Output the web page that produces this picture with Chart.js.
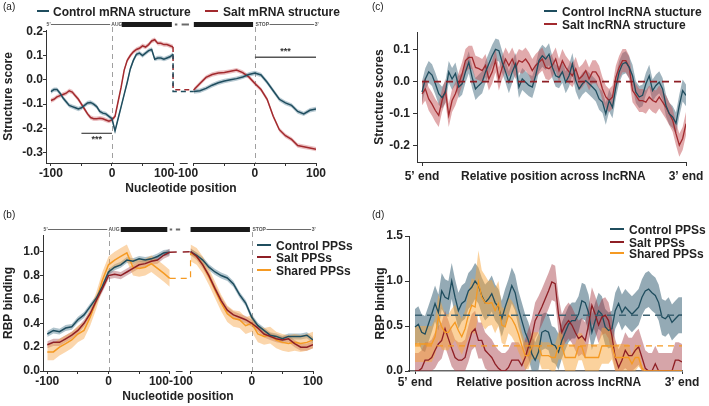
<!DOCTYPE html>
<html><head><meta charset="utf-8">
<script src="https://cdn.jsdelivr.net/npm/chart.js@4.4.1/dist/chart.umd.min.js"></script>
<style>
html,body{margin:0;padding:0;background:#fff;}
body{width:709px;height:406px;position:relative;overflow:hidden;font-family:"Liberation Sans",Arial,Helvetica,sans-serif;}
canvas{position:absolute;}
.pl{position:absolute;font-size:10px;color:#222;line-height:10px;}
.lg{position:absolute;font-weight:bold;font-size:12px;color:#222;white-space:nowrap;line-height:13px;}
.lg span{display:inline-block;height:2px;vertical-align:middle;position:relative;top:-1px;}
</style></head>
<body>
<canvas id="ca" style="left:0;top:0" width="355" height="200"></canvas>
<canvas id="cb" style="left:0;top:200px" width="355" height="206"></canvas>
<canvas id="cc" style="left:355px;top:0" width="354" height="200"></canvas>
<canvas id="cd" style="left:355px;top:200px" width="354" height="206"></canvas>

<div class="pl" style="left:3px;top:2px">(a)</div>
<div class="pl" style="left:3px;top:210px">(b)</div>
<div class="pl" style="left:372px;top:2px">(c)</div>
<div class="pl" style="left:372px;top:210px">(d)</div>

<div class="lg" style="left:37px;top:5.5px"><span style="width:12px;margin-right:4px;background:#1f4d5e"></span>Control mRNA structure</div>
<div class="lg" style="left:205px;top:5.5px"><span style="width:13px;margin-right:5px;background:#a22a2e"></span>Salt mRNA structure</div>

<div class="lg" style="left:544px;top:5.5px"><span style="width:13px;margin-right:5px;background:#1f4d5e"></span>Control lncRNA stucture</div>
<div class="lg" style="left:544px;top:18.5px"><span style="width:13px;margin-right:5px;background:#a22a2e"></span>Salt lncRNA structure</div>

<div class="lg" style="left:257px;top:239.5px"><span style="width:14px;margin-right:5px;background:#1f4d5e"></span>Control PPSs</div>
<div class="lg" style="left:257px;top:251.5px"><span style="width:14px;margin-right:5px;background:#8e1f25"></span>Salt PPSs</div>
<div class="lg" style="left:257px;top:264.5px"><span style="width:14px;margin-right:5px;background:#f59a23"></span>Shared PPSs</div>

<div class="lg" style="left:610px;top:223.5px"><span style="width:14px;margin-right:5px;background:#1f4d5e"></span>Control PPSs</div>
<div class="lg" style="left:610px;top:236.5px"><span style="width:14px;margin-right:5px;background:#8e1f25"></span>Salt PPSs</div>
<div class="lg" style="left:610px;top:247.5px"><span style="width:14px;margin-right:5px;background:#f59a23"></span>Shared PPSs</div>

<script>
// ---------------- DATA ----------------
// nucleotide positions
const ntStep5  = Array.from({length:41}, (_, i) => -100 + 5 * i);
const ntStep10 = Array.from({length:21}, (_, i) => -100 + 10 * i);

// (a) structure score around AUG (step 5) and STOP (step 10)
const ctrlA_aug = [-0.048,-0.04,-0.04,-0.055,-0.075,-0.09,-0.105,-0.11,-0.115,-0.12,-0.115,-0.105,-0.095,-0.093,-0.1,-0.11,-0.13,-0.137,-0.14,-0.15,-0.16,-0.21,-0.16,-0.11,-0.06,-0.01,0.045,0.08,0.105,0.11,0.1,0.11,0.12,0.125,0.085,0.09,0.09,0.085,0.09,0.095,0.105];
const saltA_aug = [-0.085,-0.08,-0.07,-0.065,-0.06,-0.055,-0.045,-0.05,-0.065,-0.08,-0.1,-0.12,-0.14,-0.155,-0.16,-0.16,-0.158,-0.16,-0.165,-0.17,-0.165,-0.15,-0.09,-0.03,0.04,0.08,0.1,0.115,0.125,0.13,0.14,0.135,0.145,0.16,0.165,0.15,0.15,0.145,0.145,0.14,0.135];
const ctrlA_stop = [-0.048,-0.045,-0.035,-0.022,-0.012,-0.005,0,0.005,0.012,0.022,0.028,0.02,-0.01,-0.045,-0.08,-0.095,-0.105,-0.13,-0.14,-0.125,-0.12];
const saltA_stop = [-0.041,-0.015,0.01,0.022,0.028,0.03,0.035,0.04,0.03,0.012,-0.015,-0.04,-0.08,-0.15,-0.205,-0.23,-0.245,-0.27,-0.275,-0.28,-0.285];
const errA = {ctrl:0.009, salt:0.009};
const yTicksA = [-0.3,-0.2,-0.1,0,0.1,0.2];
const sigA = [{from:-50, to:0, y:-0.22, starY:-0.245, side:'aug'}, {from:0, to:100, y:0.093, starY:0.116, side:'stop'}];

// (b) RBP binding around AUG and STOP (step 10)
const ctrlB_aug   = [0.31,0.34,0.33,0.36,0.37,0.43,0.47,0.54,0.61,0.71,0.83,0.87,0.89,0.93,0.92,0.94,0.93,0.94,0.96,0.99,0.995];
const saltB_aug   = [0.22,0.24,0.24,0.27,0.3,0.34,0.4,0.48,0.59,0.69,0.8,0.81,0.8,0.83,0.86,0.89,0.9,0.92,0.93,0.97,0.995];
const sharedB_aug = [0.16,0.16,0.2,0.23,0.26,0.31,0.34,0.45,0.59,0.76,0.89,0.93,0.96,0.99,0.87,0.86,0.87,0.9,0.86,0.82,0.776];
const ctrlB_stop   = [1.0,0.97,0.93,0.87,0.83,0.8,0.78,0.73,0.64,0.57,0.45,0.38,0.34,0.3,0.29,0.27,0.29,0.29,0.29,0.3,0.26];
const saltB_stop   = [1.0,0.96,0.89,0.8,0.69,0.59,0.51,0.47,0.45,0.43,0.4,0.36,0.31,0.29,0.27,0.26,0.27,0.23,0.2,0.2,0.22];
const sharedB_stop = [0.99,0.96,0.89,0.79,0.68,0.57,0.48,0.44,0.43,0.38,0.4,0.31,0.29,0.3,0.26,0.24,0.23,0.24,0.23,0.24,0.26];
const errB = {ctrl:0.025, salt:0.03, shared:0.07};
const yTicksB = [0,0.2,0.4,0.6,0.8,1.0];

// (c) lncRNA structure scores (relative position bins)
const lncPosC = Array.from({length:80}, (_, i) => i);
const ctrlC = [-0.033,0.008,0.03,0.02,-0.007,-0.038,-0.05,-0.033,0.03,0.008,
0.025,-0.017,-0.007,0.03,0.06,0.013,-0.023,-0.012,-0.002,0.03,
0.055,0.08,0.1,0.096,0.06,0.03,-0.002,0.03,0.055,-0.017,
0.008,-0.002,-0.012,-0.017,0.018,0.065,0.08,0.07,0.085,0.044,
0.018,0.013,0.03,-0.002,0.018,0.055,0.003,-0.023,-0.007,0.003,
-0.007,-0.017,-0.028,-0.054,-0.064,-0.1,-0.059,-0.08,-0.017,0.03,
0.055,0.06,0.044,0.018,-0.033,-0.048,-0.043,-0.007,0.018,-0.028,
-0.012,-0.002,-0.023,-0.074,-0.1,-0.11,-0.13,-0.074,-0.028,-0.043];
const saltC = [-0.038,-0.023,-0.054,-0.07,-0.09,-0.105,-0.059,-0.028,-0.105,-0.059,
-0.038,-0.007,0.024,0.065,0.075,0.075,0.044,0.04,0.034,0.05,
0.008,0.03,0.065,0.008,0.044,0.07,0.05,0.07,0.044,0.065,
0.06,0.07,0.055,0.034,0.05,0.06,0.07,0.044,0.04,0.05,
0.07,0.034,0.065,0.044,0.03,0.018,0.04,0.008,0.018,0.034,
0.008,0.03,0.03,0.013,-0.023,-0.048,-0.059,-0.048,0.013,0.044,
0.065,0.065,0.044,-0.028,-0.043,-0.059,-0.059,-0.064,-0.048,-0.059,
-0.064,-0.048,-0.064,-0.08,-0.1,-0.12,-0.162,-0.198,-0.177,-0.131];
const errC = {ctrl:0.034, salt:0.036};
const refC = 0;
const yTicksC = [-0.2,-0.1,0,0.1];

// (d) lncRNA RBP binding
const lncPosD = Array.from({length:81}, (_, i) => i);
const ctrlD = [0.49,0.52,0.43,0.41,0.52,0.63,0.75,0.65,0.89,0.82,
0.8,1.0,0.82,0.67,0.75,0.78,0.89,0.93,1.0,0.95,
0.84,0.76,0.8,0.86,0.76,0.71,0.58,0.71,0.82,0.95,
0.87,0.69,0.56,0.43,0.34,0.19,0.12,0.21,0.43,0.45,
0.43,0.3,0.28,0.21,0.34,0.43,0.52,0.56,0.56,0.63,
0.78,0.76,0.65,0.43,0.56,0.67,0.63,0.49,0.45,0.47,
0.67,0.75,0.65,0.71,0.67,0.63,0.67,0.71,0.82,0.89,
0.91,0.87,0.84,0.76,0.6,0.58,0.62,0.54,0.58,0.62,0.62];
const saltD = [0,0,0.03,0.12,0.12,0.15,0.23,0.3,0.34,0.47,
0.36,0.25,0.15,0.12,0.12,0.15,0.3,0.43,0.47,0.34,
0.34,0.23,0.19,0.15,0.08,0.03,0,0,0.04,0.12,
0.12,0.12,0.06,0.15,0.27,0.38,0.56,0.63,0.71,0.8,
0.89,0.99,0.97,0.63,0.43,0.51,0.56,0.51,0.43,0.36,
0.39,0.34,0.51,0.73,0.63,0.51,0.6,0.62,0.56,0.39,
0.15,0.04,0.12,0.23,0.17,0.17,0.23,0.27,0.15,0.03,
0,0,0.08,0,0,0,0,0,0.12,0.12,0.1];
const sharedD = [0.3,0.3,0.3,0.3,0.3,0.3,0.38,0.6,0.49,0.43,
0.43,0.49,0.54,0.45,0.38,0.47,0.62,0.73,0.71,0.99,
0.82,0.76,0.75,0.76,0.67,0.75,0.51,0.49,0.62,0.58,
0.51,0.41,0.28,0.17,0.17,0.28,0.28,0.28,0.17,0.17,
0.17,0.15,0.15,0.28,0.28,0.15,0.15,0.15,0.15,0.27,
0.27,0.15,0.15,0.15,0.15,0.15,0.28,0.28,0.28,0.28,
0.15,0.15,0.15,0.15,0.15,0.08,0.15,0.15,0.03,0,
0,0,0,0,0,0,0,0,0,0,0];
const errSharedD = [0.2,0.2,0.2,0.2,0.2,0.2,0.2,0.25,0.25,0.2,
0.2,0.2,0.2,0.2,0.2,0.2,0.25,0.3,0.3,0.35,
0.3,0.3,0.25,0.25,0.25,0.25,0.2,0.2,0.2,0.2,
0.2,0.2,0.15,0.15,0.15,0.15,0.15,0.15,0.15,0.15,
0.15,0.15,0.15,0.15,0.15,0.15,0.15,0.15,0.15,0.15,
0.15,0.15,0.15,0.15,0.15,0.15,0.2,0.2,0.2,0.15,
0.15,0.15,0.15,0.15,0.15,0.1,0.15,0.1,0.05,0,
0,0,0,0,0,0,0,0,0,0,0];
const errD = {ctrl:0.2, salt:0.2};
const meanD = {ctrl:0.62, shared:0.28};
const yTicksD = [0,0.5,1.0,1.5];

// ---------------- STYLE / HELPERS ----------------
const FONT = '"Liberation Sans", Arial, sans-serif';
const C_CTRL = '#1f4d5e', C_SALT = '#a22a2e', C_SALT_B = '#8e1f25', C_SHARED = '#f59a23';
const STOP_OFF = 234; // axis offset of the STOP window in the split axis

function pts(xs, ys, off) { return ys.map((v, i) => ({x: xs[i] + (off || 0), y: v})); }
function lineDS(data, color, w, dash) {
  return {data, borderColor: color, borderWidth: w, borderDash: dash || [], pointRadius: 0, pointHoverRadius: 0, fill: false, tension: 0, order: 1};
}
function bandPair(data, err, color, clip0) {
  const e = i => Array.isArray(err) ? err[i] : err;
  const lo = data.map((p, i) => ({x: p.x, y: clip0 ? Math.max(0, p.y - e(i)) : p.y - e(i)}));
  const hi = data.map((p, i) => ({x: p.x, y: p.y + e(i)}));
  return [
    {data: lo, borderWidth: 0, borderColor: 'rgba(0,0,0,0)', pointRadius: 0, fill: false, order: 5},
    {data: hi, borderWidth: 0, borderColor: 'rgba(0,0,0,0)', pointRadius: 0, fill: '-1', backgroundColor: color, order: 5}
  ];
}

const deco = {
  id: 'deco',
  beforeDatasetsDraw(chart, args, o) {
    const {ctx, chartArea: ca, scales: {x}} = chart;
    ctx.save();
    (o.vlines || []).forEach(v => {
      const px = Math.round(x.getPixelForValue(v)) + 0.5;
      ctx.strokeStyle = '#a0a0a0'; ctx.lineWidth = 1; ctx.setLineDash([5, 4]);
      ctx.beginPath(); ctx.moveTo(px, ca.top - 3); ctx.lineTo(px, ca.bottom); ctx.stroke();
    });
    ctx.restore();
  },
  afterDraw(chart, args, o) {
    const {ctx, chartArea: ca, scales: {x, y}} = chart;
    ctx.save();
    ctx.setLineDash([]);
    if (o.axisSegs) {
      ctx.strokeStyle = '#333'; ctx.lineWidth = 1;
      const yb = Math.round(ca.bottom) + 0.5;
      o.axisSegs.forEach(([a, b]) => {
        ctx.beginPath(); ctx.moveTo(x.getPixelForValue(a), yb); ctx.lineTo(x.getPixelForValue(b), yb); ctx.stroke();
      });
    }
    if (o.gene) {
      const g = o.gene, gy = Math.round(ca.top - 6) + 0.5;
      ctx.strokeStyle = '#6a6a6a'; ctx.lineWidth = 1;
      g.thin.forEach(([a, b]) => { ctx.beginPath(); ctx.moveTo(x.getPixelForValue(a), gy); ctx.lineTo(x.getPixelForValue(b), gy); ctx.stroke(); });
      ctx.strokeStyle = '#6a6a6a'; ctx.lineWidth = 2;
      g.gap.forEach(([a, b]) => { ctx.beginPath(); ctx.moveTo(x.getPixelForValue(a), gy); ctx.lineTo(x.getPixelForValue(b), gy); ctx.stroke(); });
      ctx.fillStyle = '#1a1a1a';
      g.thick.forEach(([a, b]) => { const x0 = x.getPixelForValue(a), x1 = x.getPixelForValue(b); ctx.fillRect(x0, gy - 2.5, x1 - x0, 5); });
      ctx.fillStyle = '#555'; ctx.font = 'bold 5px ' + FONT; ctx.textBaseline = 'middle'; ctx.textAlign = 'left';
      g.texts.forEach(([v, t]) => ctx.fillText(t, x.getPixelForValue(v), gy));
    }
    (o.stars || []).forEach(s => {
      ctx.fillStyle = '#333'; ctx.font = 'bold 9px ' + FONT; ctx.textAlign = 'center'; ctx.textBaseline = 'middle';
      ctx.fillText('***', x.getPixelForValue(s.x), y.getPixelForValue(s.y));
    });
    ctx.restore();
  }
};

function makeChart(id, cfg) {
  const tickFont = {family: FONT, size: 12, weight: 'bold'};
  return new Chart(document.getElementById(id), {
    type: 'line',
    data: {datasets: cfg.datasets},
    plugins: [deco],
    options: {
      responsive: false, animation: false, devicePixelRatio: 1,
      events: [],
      layout: {padding: cfg.pad},
      plugins: {legend: {display: false}, tooltip: {enabled: false}, deco: cfg.deco || {}},
      scales: {
        x: {
          type: 'linear', min: cfg.xmin, max: cfg.xmax,
          afterBuildTicks: s => { s.ticks = cfg.xTicks.map(v => ({value: v})); },
          afterFit: s => { s.height = cfg.xH; },
          ticks: {autoSkip: false, maxRotation: 0, minRotation: 0, padding: cfg.xTickPad, color: '#222', font: tickFont,
                  callback: (v, i) => cfg.xLabels[i]},
          grid: {drawOnChartArea: false, drawTicks: true, tickLength: cfg.xTickLen, color: '#333',
                 tickColor: c => (cfg.noMark || []).includes(c.tick && c.tick.value) ? 'rgba(0,0,0,0)' : '#333'},
          border: {display: cfg.xBorder, color: cfg.xBorderColor || '#333', width: cfg.xBorderW || 1},
          title: cfg.xTitle ? {display: true, text: cfg.xTitle, color: '#222', font: tickFont, padding: {top: 0, bottom: cfg.xTitlePad}} : {display: false}
        },
        y: {
          min: cfg.ymin, max: cfg.ymax,
          afterBuildTicks: s => { s.ticks = cfg.yTicks.map(v => ({value: v})); },
          afterFit: s => { s.width = cfg.yW; },
          ticks: {padding: cfg.yTickPad, color: '#222', font: tickFont, callback: v => cfg.yFmt(v)},
          grid: {drawOnChartArea: false, drawTicks: true, tickLength: cfg.yTickLen, color: '#333'},
          border: {display: true, color: '#333', width: 1},
          title: {display: true, text: cfg.yTitle, color: '#222', font: tickFont, padding: {top: cfg.yTitlePad, bottom: 0}}
        }
      }
    }
  });
}

// ---------------- (a) ----------------
(function () {
  const cAug = pts(ntStep5, ctrlA_aug), sAug = pts(ntStep5, saltA_aug);
  const cStop = pts(ntStep10, ctrlA_stop, STOP_OFF), sStop = pts(ntStep10, saltA_stop, STOP_OFF);
  const lastC = ctrlA_aug[ctrlA_aug.length - 1], lastS = saltA_aug[saltA_aug.length - 1];
  const ds = [
    lineDS(cAug, C_CTRL, 1.5), lineDS(sAug, C_SALT, 1.5),
    lineDS(cStop, C_CTRL, 1.5), lineDS(sStop, C_SALT, 1.5),
    lineDS([{x: 100, y: lastC}, {x: 100, y: ctrlA_stop[0]}, {x: STOP_OFF - 100, y: ctrlA_stop[0]}], C_CTRL, 1.5, [5, 4]),
    lineDS([{x: 100, y: lastS}, {x: 100, y: saltA_stop[0]}, {x: STOP_OFF - 100, y: saltA_stop[0]}], C_SALT, 1.5, [5, 4])
  ];
  sigA.forEach(s => {
    const off = s.side === 'stop' ? STOP_OFF : 0;
    ds.push(lineDS([{x: s.from + off, y: s.y}, {x: s.to + off, y: s.y}], '#555', 1.3));
  });
  ds.push(...bandPair(cAug, errA.ctrl, 'rgba(95,135,155,0.45)'));
  ds.push(...bandPair(sAug, errA.salt, 'rgba(205,100,105,0.4)'));
  ds.push(...bandPair(cStop, errA.ctrl, 'rgba(95,135,155,0.45)'));
  ds.push(...bandPair(sStop, errA.salt, 'rgba(205,100,105,0.4)'));
  makeChart('ca', {
    datasets: ds, pad: {left: 0, top: 30, right: 39, bottom: 0},
    xmin: -108, xmax: STOP_OFF + 100, xH: 37, xTickPad: 0, xTickLen: 3, xBorder: false,
    xTicks: [-100, -50, 0, 50, 100, 105, STOP_OFF - 100, STOP_OFF - 50, STOP_OFF, STOP_OFF + 50, STOP_OFF + 100],
    xLabels: ['-100', '', '0', '', '', '100-100', '', '', '0', '', '100'],
    noMark: [105],
    xTitle: 'Nucleotide position', xTitlePad: 4,
    ymin: -0.342, ymax: 0.205, yTicks: yTicksA, yFmt: v => v.toFixed(1), yW: 46, yTickPad: 0, yTickLen: 3,
    yTitle: 'Structure score', yTitlePad: 1,
    deco: {
      vlines: [0, STOP_OFF],
      axisSegs: [[-108, 100], [111, 124], [STOP_OFF - 100, STOP_OFF + 100]],
      gene: {thin: [[-100, -3], [258, 331]], gap: [[103, 107], [114, 126]], thick: [[16, 98], [134, 231]],
             texts: [[-107, "5'"], [-1, 'AUG'], [STOP_OFF + 1, 'STOP'], [332, "3'"]]},
      stars: sigA.map(s => ({x: (s.from + s.to) / 2 + (s.side === 'stop' ? STOP_OFF : 0), y: s.starY}))
    }
  });
})();

// ---------------- (b) ----------------
(function () {
  const cA = pts(ntStep10, ctrlB_aug), sA = pts(ntStep10, saltB_aug), hA = pts(ntStep10, sharedB_aug);
  const cS = pts(ntStep10, ctrlB_stop, STOP_OFF), sS = pts(ntStep10, saltB_stop, STOP_OFF), hS = pts(ntStep10, sharedB_stop, STOP_OFF);
  const L = ctrlB_aug.length - 1;
  const ds = [
    lineDS(sA, C_SALT_B, 1.5), lineDS(cA, C_CTRL, 1.5), lineDS(hA, C_SHARED, 1.5),
    lineDS(sS, C_SALT_B, 1.5), lineDS(cS, C_CTRL, 1.5), lineDS(hS, C_SHARED, 1.5),
    lineDS([{x: 100, y: ctrlB_aug[L]}, {x: STOP_OFF - 100, y: ctrlB_stop[0]}], C_SALT_B, 1.5, [7, 6]),
    lineDS([{x: 100, y: sharedB_aug[L]}, {x: STOP_OFF - 100, y: sharedB_aug[L]}, {x: STOP_OFF - 100, y: sharedB_stop[0]}], C_SHARED, 1.2, [6, 5])
  ];
  ds.push(...bandPair(hA, errB.shared, 'rgba(247,165,70,0.45)'));
  ds.push(...bandPair(cA, errB.ctrl, 'rgba(80,125,145,0.45)'));
  ds.push(...bandPair(sA, errB.salt, 'rgba(150,45,55,0.35)'));
  ds.push(...bandPair(hS, errB.shared, 'rgba(247,165,70,0.45)'));
  ds.push(...bandPair(cS, errB.ctrl, 'rgba(80,125,145,0.45)'));
  ds.push(...bandPair(sS, errB.salt, 'rgba(150,45,55,0.35)'));
  makeChart('cb', {
    datasets: ds, pad: {left: 0, top: 35, right: 42, bottom: 0},
    xmin: -107, xmax: STOP_OFF + 100, xH: 35, xTickPad: 0, xTickLen: 3, xBorder: false,
    xTicks: [-100, -50, 0, 50, 100, 102, STOP_OFF - 100, STOP_OFF - 50, STOP_OFF, STOP_OFF + 50, STOP_OFF + 100],
    xLabels: ['-100', '', '0', '', '', '100-100', '', '', '0', '', '100'],
    noMark: [102],
    xTitle: 'Nucleotide position', xTitlePad: 2,
    ymin: 0, ymax: 1.14, yTicks: yTicksB, yFmt: v => v.toFixed(1), yW: 43, yTickPad: 0, yTickLen: 3,
    yTitle: 'RBP binding', yTitlePad: 1,
    deco: {
      vlines: [0, STOP_OFF],
      axisSegs: [[-107, 100], [110, 121], [STOP_OFF - 100, STOP_OFF + 100]],
      gene: {thin: [[-99, -2], [258, 331]], gap: [[100, 104], [110, 117]], thick: [[20, 96], [134, 231]],
             texts: [[-106, "5'"], [0, 'AUG'], [STOP_OFF + 1, 'STOP'], [332, "3'"]]}
    }
  });
})();

// ---------------- (c) ----------------
(function () {
  const c = pts(lncPosC, ctrlC), s = pts(lncPosC, saltC);
  const last = lncPosC[lncPosC.length - 1];
  const ds = [
    lineDS([{x: lncPosC[0], y: refC}, {x: last, y: refC}], '#8e1f25', 1.8, [7, 5]),
    lineDS(c, C_CTRL, 1.3), lineDS(s, C_SALT, 1.3)
  ];
  ds.push(...bandPair(s, errC.salt, 'rgba(195,85,90,0.5)'));
  ds.push(...bandPair(c, errC.ctrl, 'rgba(65,105,125,0.5)'));
  const mid = 39.3;
  makeChart('cc', {
    datasets: ds, pad: {left: 0, top: 32, right: 23, bottom: 0},
    xmin: -1.5, xmax: last, xH: 38, xTickPad: 3, xTickLen: 4, xBorder: true,
    xTicks: [0, mid, last], xLabels: ['5’ end', 'Relative position across lncRNA', '3’ end'], noMark: [mid],
    ymin: -0.25, ymax: 0.154, yTicks: yTicksC, yFmt: v => v.toFixed(1), yW: 62, yTickPad: 3, yTickLen: 4,
    yTitle: 'Structure scores', yTitlePad: 17
  });
})();

// ---------------- (d) ----------------
(function () {
  const c = pts(lncPosD, ctrlD), s = pts(lncPosD, saltD), h = pts(lncPosD, sharedD);
  const last = lncPosD[lncPosD.length - 1];
  const ds = [
    lineDS([{x: lncPosD[0], y: meanD.ctrl}, {x: last, y: meanD.ctrl}], '#3d6272', 1.6, [7, 5]),
    lineDS([{x: lncPosD[0], y: meanD.shared}, {x: last, y: meanD.shared}], C_SHARED, 1.3, [6, 5]),
    lineDS(h, C_SHARED, 1.3), lineDS(s, C_SALT_B, 1.3), lineDS(c, C_CTRL, 1.3)
  ];
  ds.push(...bandPair(h, errSharedD, 'rgba(247,165,60,0.5)', true));
  ds.push(...bandPair(s, errD.salt, 'rgba(165,55,65,0.45)', true));
  ds.push(...bandPair(c, errD.ctrl, 'rgba(60,100,120,0.55)', true));
  const mid = 40.1;
  makeChart('cd', {
    datasets: ds, pad: {left: 0, top: 36, right: 27, bottom: 0},
    xmin: -1.8, xmax: last, xH: 35, xTickPad: 1, xTickLen: 3, xBorder: true, xBorderColor: '#666', xBorderW: 1.5,
    xTicks: [0, mid, last], xLabels: ['5’ end', 'Relative position across lncRNA', '3’ end'], noMark: [mid],
    ymin: 0, ymax: 1.5, yTicks: yTicksD, yFmt: v => v.toFixed(1), yW: 54, yTickPad: 2, yTickLen: 4,
    yTitle: 'RBP binding', yTitlePad: 18
  });
})();
</script>
</body></html>
